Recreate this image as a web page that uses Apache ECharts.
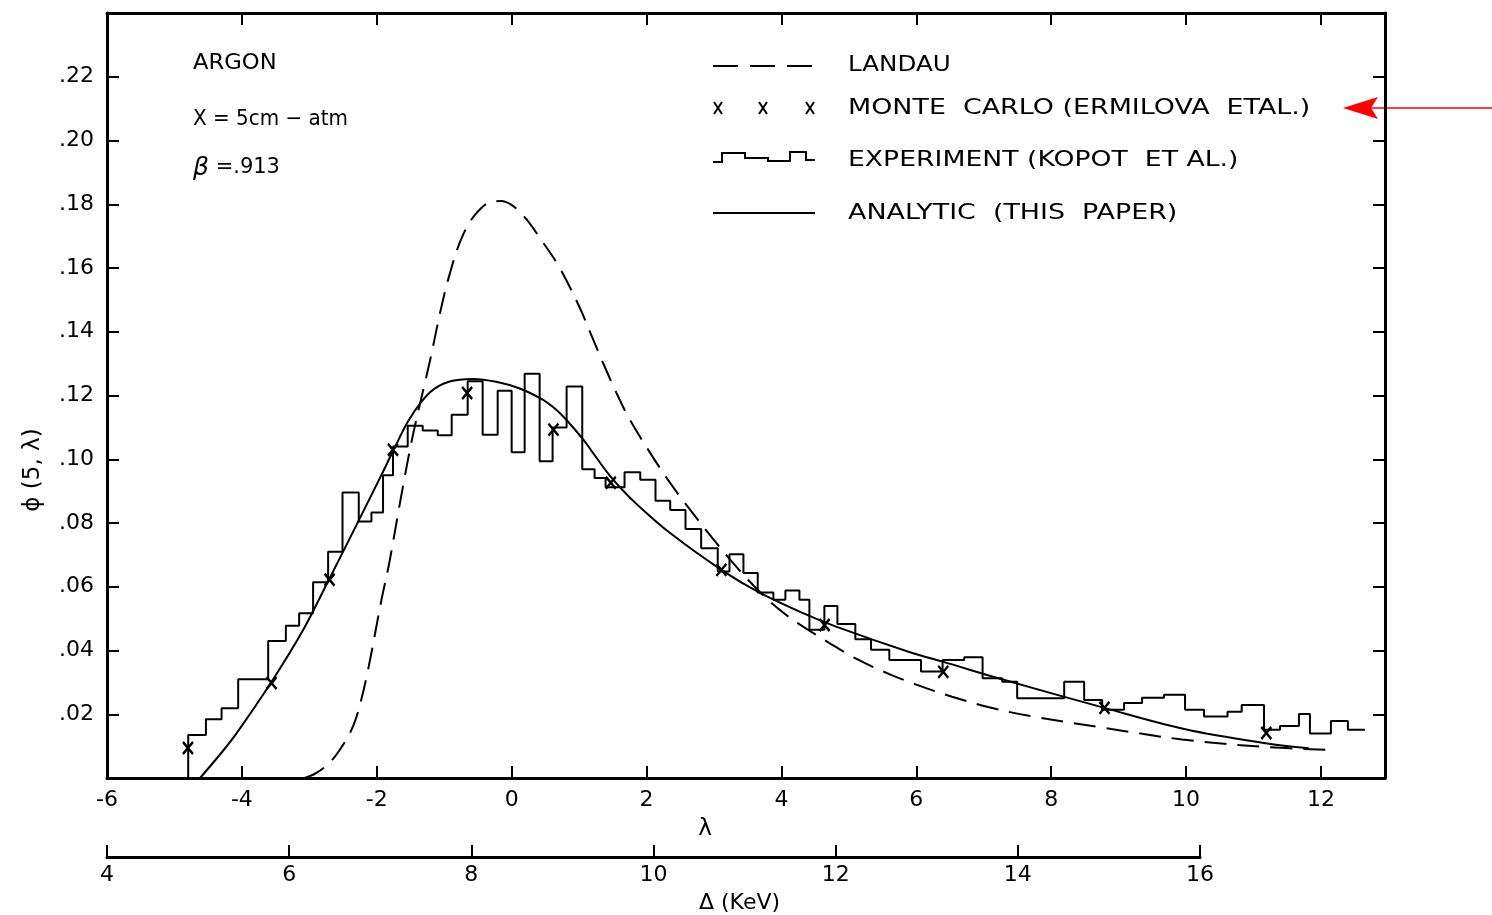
<!DOCTYPE html>
<html><head><meta charset="utf-8">
<script src="https://cdn.jsdelivr.net/npm/echarts@6/dist/echarts.min.js"></script>
<style>html,body{margin:0;padding:0;background:#fff}#c{width:1492px;height:915px}</style>
</head><body><div id="c"></div>
<script>
// ---------- data (λ, φ) ----------
const landau = [[-3.07,0],[-2.90,0.0015],[-2.70,0.0048],[-2.55,0.0088],[-2.40,0.0140],[-2.30,0.0192],[-2.15,0.0318],
  [-1.93,0.0559],[-1.81,0.068],[-1.65,0.087],[-1.47,0.107],[-1.21,0.131],[-1.05,0.147],[-0.92,0.158],[-0.75,0.169],
  [-0.55,0.1765],[-0.30,0.1808],[-0.15,0.181],[0.05,0.179],[0.25,0.1745],[0.40,0.170],[0.70,0.1605],[1.00,0.148],
  [1.20,0.138],[1.35,0.1305],[1.55,0.121],[1.75,0.1125],[2.12,0.0998],[2.44,0.0899],[2.74,0.0816],[2.98,0.0752],
  [3.33,0.0663],[3.72,0.0575],[4.02,0.052],[4.27,0.0482],[4.70,0.0425],[5.10,0.0375],[5.60,0.0326],[6.00,0.0293],
  [6.53,0.0255],[7.08,0.0222],[7.67,0.0195],[8.71,0.0160],[9.94,0.0121],[11.19,0.0097],[12.16,0.0088]];

const analytic = [[-4.62,0],[-4.30,0.008],[-4.08,0.014],[-3.56,0.0302],[-3.09,0.0465],[-2.71,0.0622],[-2.30,0.0794],
  [-1.93,0.0951],[-1.76,0.1025],[-1.51,0.1128],[-1.21,0.1210],[-0.92,0.1244],[-0.57,0.1252],[-0.23,0.1243],
  [0.12,0.1222],[0.46,0.1187],[0.64,0.1159],[0.81,0.1124],[1.06,0.1062],[1.25,0.1007],[1.45,0.0950],[1.65,0.0902],
  [1.85,0.0860],[2.34,0.0770],[3.11,0.0653],[3.67,0.0582],[4.32,0.0517],[4.81,0.0475],[5.94,0.0392],[6.39,0.0365],
  [7.23,0.0312],[8.79,0.0220],[9.99,0.0153],[11.18,0.0109],[11.82,0.0093]];

const monteCarlo = [[-4.80,0.0094],[-3.56,0.0298],[-2.70,0.0622],[-1.76,0.103],[-0.66,0.1208],[0.62,0.1093],
  [1.47,0.0926],[3.11,0.0653],[4.64,0.048],[6.40,0.0333],[8.79,0.022],[11.19,0.0141]];

// experiment histogram: bin left edges (λ) and bin heights; last edge closes the final bin
const expEdges = [-4.796,-4.533,-4.301,-4.055,-3.610,-3.348,-3.151,-2.944,-2.721,-2.508,-2.267,-2.079,-1.907,
  -1.759,-1.541,-1.319,-1.096,-0.889,-0.652,-0.430,-0.207,0.000,0.193,0.415,0.607,0.815,1.047,1.230,1.393,1.674,
  1.907,2.133,2.351,2.578,2.810,3.056,3.230,3.437,3.649,3.881,4.059,4.267,4.415,4.637,4.830,5.096,5.329,5.600,
  6.070,6.390,6.711,6.983,7.274,7.496,8.193,8.489,8.756,9.081,9.348,9.674,9.985,10.267,10.615,10.825,11.156,
  11.393,11.674,11.837,12.148,12.400,12.652];
const expValues = [0.0135,0.0184,0.0219,0.031,0.043,0.0478,0.0517,0.0614,0.071,0.0896,0.0805,0.0833,0.095,
  0.104,0.1105,0.109,0.1075,0.114,0.1245,0.1077,0.1215,0.1022,0.1268,0.0994,0.110,0.1228,0.0969,0.0941,0.0912,
  0.0959,0.0936,0.087,0.0841,0.0781,0.0721,0.0648,0.0702,0.0643,0.0582,0.0559,0.0588,0.0559,0.0465,0.054,0.0483,
  0.0435,0.0402,0.037,0.0334,0.037,0.0379,0.0313,0.0302,0.025,0.0302,0.0245,0.0214,0.0235,0.0252,0.0261,0.0214,
  0.0193,0.0208,0.0229,0.0151,0.0163,0.0201,0.014,0.0179,0.0151];

const lambdaRange = [-6, 12.95];
const deltaRange = [4, 16];
const phiRange = [0, 0.24];

// ---------- build ----------
const expPoints = [[expEdges[0], 0]];
for (let i = 0; i < expValues.length; i++) expPoints.push([expEdges[i], expValues[i]]);
expPoints.push([expEdges[expEdges.length - 1], expValues[expValues.length - 1]]);

const FONT = 'DejaVu Sans';
const black = '#000';
const axisLine = {show: true, onZero: false, lineStyle: {color: black, width: 3}};
const tickIn = {show: true, inside: true, length: 12, lineStyle: {color: black, width: 2}};
const intFmt = v => { const r = Math.round(v); return Math.abs(v - r) < 1e-6 ? String(r) : ''; };
const phiFmt = v => (v < 0.001 || v > 0.235) ? '' : v.toFixed(2).replace(/^0/, '');

function xMark(cx, cy) {
  return [
    {type: 'line', shape: {x1: cx - 4, y1: cy - 6, x2: cx + 4, y2: cy + 6}, style: {stroke: black, lineWidth: 2}},
    {type: 'line', shape: {x1: cx + 4, y1: cy - 6, x2: cx - 4, y2: cy + 6}, style: {stroke: black, lineWidth: 2}}
  ];
}
function label(text, x, y, sx, size) {
  return {type: 'text', x: x, y: y, scaleX: sx || 1,
    style: {text: text, x: 0, y: 0, font: (size || 21) + 'px "' + FONT + '"', fill: black, textAlign: 'left', textVerticalAlign: 'middle'}};
}

const graphic = [
  // annotation block
  label('ARGON', 193, 64, 1.08),
  label('X = 5cm − atm', 193, 120, 0.95),
  {type: 'text', x: 193, y: 168,
    style: {text: '{b|β} =.913', x: 0, y: 0, font: '21px "' + FONT + '"', fill: black, textAlign: 'left', textVerticalAlign: 'middle',
      rich: {b: {fontSize: 25, fontStyle: 'italic', fontFamily: FONT, fill: black}}}},
  // legend samples
  {type: 'line', shape: {x1: 713, y1: 66, x2: 815, y2: 66}, style: {stroke: black, lineWidth: 2, lineDash: [25, 12]}},
  ...xMark(718, 108), ...xMark(763, 108), ...xMark(810, 108),
  {type: 'polyline', shape: {points: [[713,162],[722,162],[722,153],[745,153],[745,158],[768,158],[768,161],[790,161],[790,152],[806,152],[806,160],[815,160]]},
    style: {stroke: black, lineWidth: 2, fill: null}},
  {type: 'line', shape: {x1: 713, y1: 213, x2: 815, y2: 213}, style: {stroke: black, lineWidth: 2}},
  // legend texts
  label('LANDAU', 848, 66, 1.17),
  label('MONTE  CARLO (ERMILOVA  ETAL.)', 848, 109, 1.28),
  label('EXPERIMENT (KOPOT  ET AL.)', 848, 161, 1.27),
  label('ANALYTIC  (THIS  PAPER)', 848, 214, 1.28),
  // y-axis title
  {type: 'text', x: 33, y: 470, rotation: Math.PI / 2,
    style: {text: 'ϕ (5, λ)', x: 0, y: 0, font: '23px "' + FONT + '"', fill: black, textAlign: 'center', textVerticalAlign: 'middle'}},
  // red arrow
  {type: 'line', shape: {x1: 1368, y1: 108, x2: 1492, y2: 108}, style: {stroke: '#ff0000', lineWidth: 1.5}},
  {type: 'polygon', shape: {points: [[1343,108],[1378,97],[1371,108],[1378,119]]}, style: {fill: '#ff0000'}}
];

const option = {
  animation: false,
  backgroundColor: '#fff',
  textStyle: {fontFamily: FONT, color: black},
  grid: [
    {left: 107, top: 13, width: 1278, height: 765, show: false},
    {left: 107, top: 845, width: 1093, height: 12, show: false}
  ],
  xAxis: [
    {gridIndex: 0, type: 'value', min: lambdaRange[0], max: lambdaRange[1], interval: 2, position: 'bottom',
      axisLine: axisLine, axisTick: tickIn, splitLine: {show: false},
      axisLabel: {margin: 11, fontSize: 22, color: black, fontFamily: FONT, showMaxLabel: false, formatter: intFmt},
      name: 'λ', nameLocation: 'middle', nameGap: 40,
      nameTextStyle: {fontSize: 23, color: black, fontFamily: FONT, padding: [0, 82, 0, 0]}},
    {gridIndex: 0, type: 'value', min: lambdaRange[0], max: lambdaRange[1], interval: 2, position: 'top',
      axisLine: axisLine, axisTick: tickIn, splitLine: {show: false}, axisLabel: {show: false}},
    {gridIndex: 1, type: 'value', min: deltaRange[0], max: deltaRange[1], interval: 2, position: 'bottom',
      axisLine: axisLine, axisTick: tickIn, splitLine: {show: false},
      axisLabel: {margin: 7, fontSize: 22, color: black, fontFamily: FONT, formatter: intFmt},
      name: 'Δ (KeV)', nameLocation: 'middle', nameGap: 35,
      nameTextStyle: {fontSize: 22, color: black, fontFamily: FONT, padding: [0, 0, 0, 172]}}
  ],
  yAxis: [
    {gridIndex: 0, type: 'value', min: phiRange[0], max: phiRange[1], interval: 0.02, position: 'left',
      axisLine: axisLine, axisTick: tickIn, splitLine: {show: false},
      axisLabel: {margin: 13, fontSize: 22, color: black, fontFamily: FONT, formatter: phiFmt}},
    {gridIndex: 0, type: 'value', min: phiRange[0], max: phiRange[1], interval: 0.02, position: 'right',
      axisLine: axisLine, axisTick: tickIn, splitLine: {show: false}, axisLabel: {show: false}},
    {gridIndex: 1, type: 'value', min: 0, max: 1, show: false}
  ],
  series: [
    {name: 'LANDAU', type: 'line', xAxisIndex: 0, yAxisIndex: 0, data: landau, symbol: 'none', smooth: 0.35,
      lineStyle: {color: black, width: 2, type: [22, 11]}},
    {name: 'EXPERIMENT (KOPOT ET AL.)', type: 'line', xAxisIndex: 0, yAxisIndex: 0, data: expPoints, step: 'end',
      symbol: 'none', lineStyle: {color: black, width: 2}},
    {name: 'ANALYTIC (THIS PAPER)', type: 'line', xAxisIndex: 0, yAxisIndex: 0, data: analytic, symbol: 'none',
      smooth: 0.35, lineStyle: {color: black, width: 2}},
    {name: 'MONTE CARLO (ERMILOVA ETAL.)', type: 'scatter', xAxisIndex: 0, yAxisIndex: 0, data: monteCarlo,
      symbol: 'path://M0,0L10,12M10,0L0,12', symbolSize: [10, 12], z: 5,
      itemStyle: {color: 'none', borderColor: black, borderWidth: 2.5, opacity: 1}}
  ],
  graphic: graphic
};

const chart = echarts.init(document.getElementById('c'), null, {renderer: 'canvas'});
chart.setOption(option);
</script>
</body></html>
